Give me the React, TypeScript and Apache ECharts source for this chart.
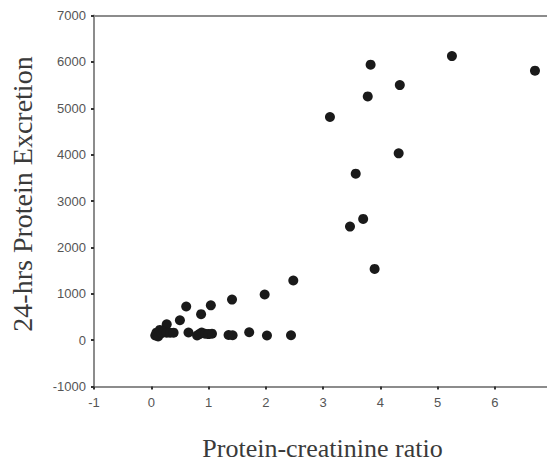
import React, { useEffect, useRef } from "react";
import * as echarts from "echarts";

const xTitle = "Protein-creatinine ratio";
const yTitle = "24-hrs Protein Excretion";

const pcrValues = [
  6.70, 5.25, 3.83, 4.34, 3.78, 3.12, 4.32, 3.57, 3.70, 3.47, 3.90, 2.48, 1.98, 1.41, 1.04, 0.61, 0.87, 0.50, 0.27,
  0.07, 0.09, 0.12, 0.15, 0.18, 0.22, 0.27, 0.33, 0.39, 0.65, 0.80, 0.84, 0.88, 0.94, 1.00, 1.06, 1.35, 1.42, 1.71, 2.02, 2.44,
];
const proteinValues = [
  5810, 6125, 5940, 5500, 5255, 4812, 4028, 3590, 2614, 2448, 1536, 1285, 983, 875, 750, 725, 560, 429, 340,
  100, 160, 80, 220, 150, 180, 160, 160, 160, 165, 100, 130, 165, 140, 130, 140, 110, 106, 170, 100, 106,
];

export default function App() {
  const ref = useRef<HTMLDivElement>(null);
  useEffect(() => {
    if (!ref.current) return;
    const chart = echarts.init(ref.current, undefined, { renderer: "svg" });
    const data = pcrValues.map((x, i) => [x, proteinValues[i]]);
    const axisLineStyle = { color: "#8c8c8c", width: 2 };
    chart.setOption({
      animation: false,
      backgroundColor: "#ffffff",
      grid: {
        left: 94,
        top: 15.5,
        right: 0,
        bottom: 75.5,
        show: false,
      },
      xAxis: [
        {
          type: "value",
          min: -1,
          max: 6.91,
          interval: 1,
          splitLine: { show: false },
          axisLine: { show: true, onZero: false, lineStyle: axisLineStyle },
          axisTick: { show: true, length: 3, lineStyle: { color: "#333", width: 2 } },
          axisLabel: {
            showMaxLabel: false,
            margin: 9,
            fontFamily: "Liberation Sans",
            fontSize: 13,
            color: "#555",
          },
        },
        {
          type: "value",
          position: "top",
          min: -1,
          max: 6.91,
          interval: 1,
          splitLine: { show: false },
          axisLine: { show: true, onZero: false, lineStyle: axisLineStyle },
          axisTick: { show: false },
          axisLabel: { show: false },
        },
      ],
      yAxis: {
        type: "value",
        min: -1000,
        max: 7000,
        interval: 1000,
        splitLine: { show: false },
        axisLine: { show: true, onZero: false, lineStyle: axisLineStyle },
        axisTick: { show: true, length: 3, lineStyle: { color: "#333", width: 2 } },
        axisLabel: {
          margin: 8,
          fontFamily: "Liberation Sans",
          fontSize: 13,
          color: "#555",
          formatter: (v: number) => String(v),
        },
      },
      graphic: [
        {
          type: "text",
          x: 322.5,
          y: 448.5,
          style: {
            text: xTitle,
            fontFamily: "Liberation Serif",
            fontSize: 26,
            fill: "#3a3a3a",
            align: "center",
            verticalAlign: "middle",
          },
        },
        {
          type: "text",
          x: 22.5,
          y: 194,
          rotation: Math.PI / 2,
          style: {
            text: yTitle,
            fontFamily: "Liberation Serif",
            fontSize: 28,
            fill: "#3a3a3a",
            align: "center",
            verticalAlign: "middle",
          },
        },
      ],
      series: [
        {
          type: "scatter",
          xAxisIndex: 0,
          data,
          symbol: "circle",
          symbolSize: 10,
          itemStyle: { color: "#1a1a1a", opacity: 1 },
        },
      ],
    });
    return () => chart.dispose();
  }, []);
  return <div ref={ref} style={{ width: 547, height: 462, position: "absolute", left: 0, top: 0 }} />;
}
